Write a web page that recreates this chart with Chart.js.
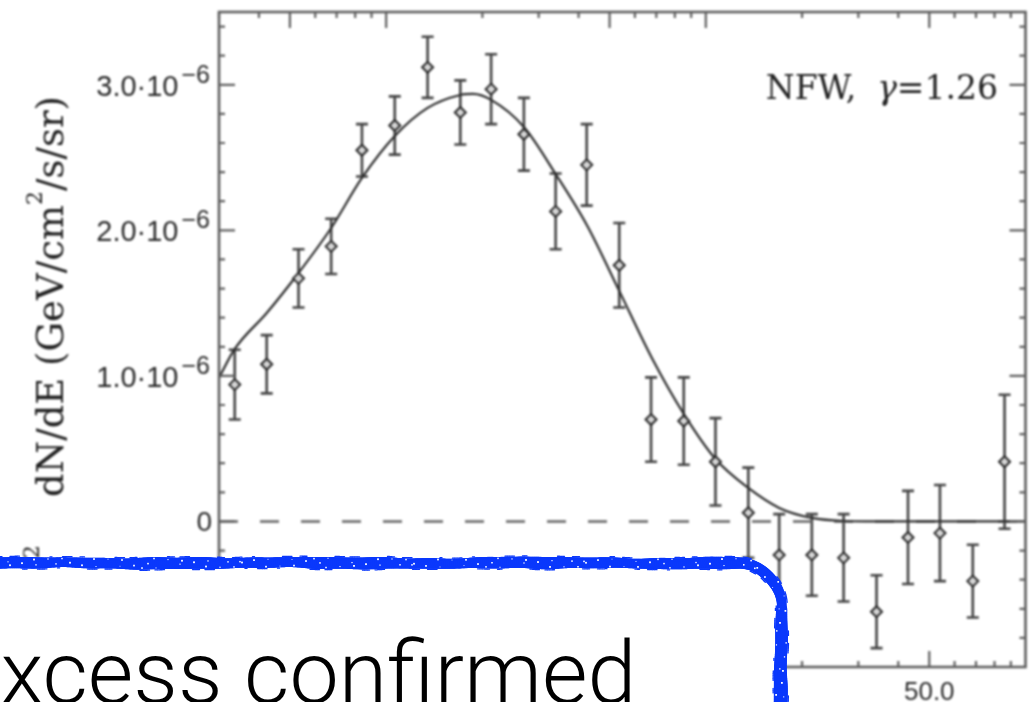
<!DOCTYPE html>
<html>
<head>
<meta charset="utf-8">
<script src="https://cdn.jsdelivr.net/npm/chart.js@4.4.1/dist/chart.umd.min.js"></script>
<style>
  html, body { margin: 0; padding: 0; background: #fff; overflow: hidden; }
  #wrap { position: relative; width: 1033px; height: 702px; }
  #plot { position: absolute; left: 0; top: 0; filter: blur(0.9px); }
  #note { position: absolute; left: 0; top: 0; pointer-events: none; }
</style>
</head>
<body>
<div id="wrap">
  <canvas id="plot" width="1033" height="702"></canvas>
  <canvas id="note" width="1033" height="702"></canvas>
</div>
<script>
// Energy bin centres (GeV)
const energy = [0.336, 0.423, 0.532, 0.673, 0.840, 1.064, 1.348, 1.706, 2.130, 2.697,
                3.390, 4.24, 5.36, 6.74, 8.53, 10.72, 13.58, 16.96, 21.46, 26.98,
                34.2, 42.9, 54.0, 68.4, 86.0];
// E^2 dN/dE in units of 1e-6 GeV/cm^2/s/sr
const flux = [0.94, 1.08, 1.67, 1.89, 2.55, 2.72, 3.12, 2.81, 2.97, 2.66,
              2.13, 2.45, 1.76, 0.70, 0.69, 0.41, 0.06, -0.23, -0.23, -0.25,
              -0.62, -0.11, -0.08, -0.41, 0.41];
// 1-sigma uncertainties, same units
const fluxErr = [0.24, 0.20, 0.20, 0.19, 0.18, 0.20, 0.21, 0.22, 0.24, 0.25,
                 0.26, 0.28, 0.29, 0.29, 0.30, 0.30, 0.31, 0.28, 0.28, 0.30,
                 0.25, 0.32, 0.33, 0.25, 0.46];
// Best-fit dark matter spectrum
const modelEnergy = [0.30, 0.336, 0.423, 0.532, 0.673, 0.840, 1.064, 1.348, 1.706, 1.87,
                     2.130, 2.697, 3.390, 4.26, 5.36, 6.78, 8.53, 10.72, 13.58, 16.96,
                     21.46, 26.98, 33.9, 50.0, 100.0];
const modelFlux = [0.986, 1.185, 1.432, 1.707, 2.016, 2.360, 2.648, 2.841, 2.930, 2.937,
                   2.896, 2.710, 2.387, 2.030, 1.584, 1.123, 0.739, 0.429, 0.230, 0.093,
                   0.024, 0.003, 0.0, 0.0, 0.0];

// Axis ticks
const yMajorTicks = [0, 1, 2, 3];
const yTickMantissa = ['0', '1.0·10', '2.0·10', '3.0·10'];
const yTickExponent = ['', '−6', '−6', '−6'];
const xMajorTicks = [0.5, 1, 5, 10, 50];
const xTickLabels = ['0.5', '1.0', '5.0', '10.0', '50.0'];
const xMinorTicks = [0.3, 0.4, 0.6, 0.7, 0.8, 0.9, 2, 3, 4, 6, 7, 8, 9,
                     20, 30, 40, 60, 70, 80, 90];

const errorBars = {
  id: 'errorBars',
  beforeDatasetsDraw(chart) {
    const { ctx, scales: { x, y } } = chart;
    ctx.save();
    ctx.strokeStyle = '#444';
    ctx.lineWidth = 2.6;
    energy.forEach((e, i) => {
      const px = x.getPixelForValue(e);
      const top = y.getPixelForValue(flux[i] + fluxErr[i]);
      const bot = y.getPixelForValue(flux[i] - fluxErr[i]);
      ctx.beginPath();
      ctx.moveTo(px, top); ctx.lineTo(px, bot);
      ctx.moveTo(px - 6, top); ctx.lineTo(px + 6, top);
      ctx.moveTo(px - 6, bot); ctx.lineTo(px + 6, bot);
      ctx.stroke();
    });
    ctx.restore();
  }
};

const frameAndText = {
  id: 'frameAndText',
  afterDraw(chart) {
    const { ctx, chartArea: a, scales: { x, y } } = chart;
    ctx.save();
    // frame
    ctx.strokeStyle = '#5e5e5e';
    ctx.lineWidth = 2.6;
    ctx.strokeRect(a.left, a.top, a.right - a.left, a.bottom - a.top);

    // inward ticks on all four sides
    ctx.lineWidth = 2.2;
    const MAJ = 16, MIN = 6;
    ctx.beginPath();
    for (let k = -5; k <= 17; k++) {
      const py = y.getPixelForValue(k * 0.2);
      const len = (k % 5 === 0) ? MAJ : MIN;
      ctx.moveTo(a.left, py); ctx.lineTo(a.left + len, py);
      ctx.moveTo(a.right, py); ctx.lineTo(a.right - len, py);
    }
    xMajorTicks.forEach(v => {
      const px = x.getPixelForValue(v);
      ctx.moveTo(px, a.bottom); ctx.lineTo(px, a.bottom - MAJ);
      ctx.moveTo(px, a.top); ctx.lineTo(px, a.top + MAJ);
    });
    xMinorTicks.forEach(v => {
      const px = x.getPixelForValue(v);
      ctx.moveTo(px, a.bottom); ctx.lineTo(px, a.bottom - MIN);
      ctx.moveTo(px, a.top); ctx.lineTo(px, a.top + MIN);
    });
    ctx.stroke();

    // y tick labels with exponent
    ctx.fillStyle = '#2a2a2a';
    ctx.textBaseline = 'alphabetic';
    yMajorTicks.forEach((v, i) => {
      const py = y.getPixelForValue(v);
      ctx.textAlign = 'right';
      if (yTickExponent[i]) {
        ctx.font = '25px "Liberation Sans", Arial, sans-serif';
        ctx.fillText(yTickExponent[i], 210, py - 2);
        const ew = ctx.measureText(yTickExponent[i]).width;
        ctx.font = '29px "Liberation Sans", Arial, sans-serif';
        ctx.fillText(yTickMantissa[i], 210 - ew - 3, py + 11);
      } else {
        ctx.font = '28px "Liberation Sans", Arial, sans-serif';
        ctx.fillText(yTickMantissa[i], 212, py + 10);
      }
    });

    // x tick labels
    ctx.font = '26px "Liberation Sans", Arial, sans-serif';
    ctx.textAlign = 'center';
    xMajorTicks.forEach((v, i) => {
      ctx.fillText(xTickLabels[i], x.getPixelForValue(v), 700);
    });

    // y axis title, rotated; [text, size, raise, extra space after]
    const parts = [
      ['E', 37, 0, 0], ['2', 22, 24, 48], ['dN/dE (GeV/cm', 37, 0, 0], ['2', 22, 21, 0], ['/s/sr)', 37, 0, 0]
    ];
    let total = 0;
    parts.forEach(p => {
      ctx.font = p[1] + 'px "DejaVu Serif", serif';
      total += ctx.measureText(p[0]).width + p[3];
    });
    ctx.translate(63, 96 + total);
    ctx.rotate(-Math.PI / 2);
    ctx.textAlign = 'left';
    ctx.fillStyle = '#222';
    let cx = 0;
    parts.forEach(p => {
      ctx.font = p[1] + 'px "DejaVu Serif", serif';
      ctx.fillText(p[0], cx, -p[2]);
      cx += ctx.measureText(p[0]).width + p[3];
    });
    ctx.setTransform(1, 0, 0, 1, 0, 0);

    // model label
    const lab = [
      ['NFW,  ', '33px "DejaVu Serif", serif'],
      ['γ', 'italic 33px "DejaVu Serif", serif'],
      ['=1.26', '33px "DejaVu Serif", serif']
    ];
    let lw = 0;
    lab.forEach(p => { ctx.font = p[1]; lw += ctx.measureText(p[0]).width; });
    let lx = 998 - lw;
    ctx.textAlign = 'left';
    lab.forEach(p => {
      ctx.font = p[1];
      ctx.fillText(p[0], lx, 99);
      lx += ctx.measureText(p[0]).width;
    });
    ctx.restore();
  }
};

new Chart(document.getElementById('plot'), {
  type: 'scatter',
  data: {
    datasets: [
      {
        label: 'data',
        data: energy.map((e, i) => ({ x: e, y: flux[i] })),
        pointStyle: 'rectRot',
        pointRadius: 5.5,
        pointBorderWidth: 2,
        pointBorderColor: '#2a2a2a',
        pointBackgroundColor: '#d6d6d6',
        showLine: false,
        order: 1
      },
      {
        label: 'model',
        data: modelEnergy.map((e, i) => ({ x: e, y: modelFlux[i] })),
        showLine: true,
        borderColor: '#2c2c2c',
        borderWidth: 2.2,
        pointRadius: 0,
        cubicInterpolationMode: 'monotone',
        order: 2
      },
      {
        label: 'zero',
        data: [{ x: 0.3, y: 0 }, { x: 100, y: 0 }],
        showLine: true,
        borderColor: '#666',
        borderWidth: 2.4,
        borderDash: [19, 22],
        pointRadius: 0,
        order: 3
      }
    ]
  },
  options: {
    responsive: false,
    devicePixelRatio: 1,
    animation: false,
    layout: { padding: { top: 12, right: 2, bottom: 0, left: 0 } },
    plugins: { legend: { display: false }, tooltip: { enabled: false } },
    scales: {
      x: {
        type: 'logarithmic', min: 0.3, max: 100,
        ticks: { display: false }, grid: { display: false }, border: { display: false },
        afterFit(s) { s.height = 35; }
      },
      y: {
        type: 'linear', min: -1, max: 3.5,
        ticks: { display: false }, grid: { display: false }, border: { display: false },
        afterFit(s) { s.width = 219; }
      }
    }
  },
  plugins: [errorBars, frameAndText]
});

// Marker-drawn callout box with the headline
(function () {
  const c = document.getElementById('note');
  const ctx = c.getContext('2d');
  const TOP = 563, RIGHT = 781, R = 44, LEFT = -40, BOTTOM = 740;
  const L1 = (RIGHT - R) - LEFT, L2 = Math.PI * R / 2, L3 = BOTTOM - (TOP + R);
  const LEN = L1 + L2 + L3;

  // point on the box outline at arc length s, with outward normal
  function at(s) {
    if (s <= L1) return { x: LEFT + s, y: TOP, nx: 0, ny: -1, side: 0 };
    if (s <= L1 + L2) {
      const t = (s - L1) / R - Math.PI / 2;
      return { x: RIGHT - R + R * Math.cos(t), y: TOP + R + R * Math.sin(t),
               nx: Math.cos(t), ny: Math.sin(t), side: 1 };
    }
    return { x: RIGHT, y: TOP + R + (s - L1 - L2), nx: 1, ny: 0, side: 2 };
  }
  // slight wobble of the pen across the outline
  const wob = s => 0.45 * Math.sin(s / 41) + 0.3 * Math.sin(s / 17 + 1.3) + 0.25 * Math.sin(s / 7.3);
  const thick = (s, side) => (side === 2 ? 12.5 : 11) + 0.9 * Math.sin(s / 29 + 0.7) + 0.5 * Math.sin(s / 9.1);

  // white panel
  ctx.beginPath();
  for (let s = 0; s <= LEN; s += 2) {
    const p = at(s);
    if (s === 0) ctx.moveTo(p.x, p.y); else ctx.lineTo(p.x, p.y);
  }
  ctx.lineTo(LEFT, BOTTOM);
  ctx.closePath();
  ctx.fillStyle = '#fff';
  ctx.fill();

  // pen stroke with varying width
  ctx.strokeStyle = 'rgb(10, 56, 252)';
  ctx.lineCap = 'round';
  for (let s = 0; s < LEN; s += 2) {
    const p = at(s), q = at(s + 2);
    const w1 = wob(s), w2 = wob(s + 2);
    ctx.lineWidth = thick(s, p.side);
    ctx.beginPath();
    ctx.moveTo(p.x + p.nx * w1, p.y + p.ny * w1);
    ctx.lineTo(q.x + q.nx * w2, q.y + q.ny * w2);
    ctx.stroke();
  }
  // ragged fibres along the edges
  ctx.lineWidth = 1.3;
  for (let s = 0; s < LEN; s += 2.5) {
    const p = at(s);
    const h = Math.sin(s * 0.37) + Math.sin(s * 0.113 + 2);
    if (Math.abs(h) < 0.5) continue;
    const side = h > 0 ? 1 : -1;
    const o = wob(s) + side * (thick(s, p.side) / 2 + 0.7);
    const q = at(s + 2);
    ctx.beginPath();
    ctx.moveTo(p.x + p.nx * o, p.y + p.ny * o);
    ctx.lineTo(q.x + q.nx * o, q.y + q.ny * o);
    ctx.stroke();
  }
  // paper showing through the ink
  ctx.fillStyle = '#fff';
  for (let s = 0; s < LEN; s += 2) {
    const p = at(s);
    const h = Math.sin(s * 0.731) * Math.sin(s * 0.219 + 0.5);
    if (h < 0.35) continue;
    const band = thick(s, p.side) / 2 - 1.2;
    const o = wob(s) + band * Math.sin(s * 1.37);
    const sz = 0.8 + 1.0 * Math.abs(Math.sin(s * 0.53));
    ctx.fillRect(p.x + p.nx * o - sz / 2, p.y + p.ny * o - sz / 2, sz, sz);
  }

  // headline text
  ctx.fillStyle = '#000';
  ctx.font = '300 88px Roboto, "Liberation Sans", sans-serif';
  ctx.textBaseline = 'alphabetic';
  const lead = ctx.measureText('Excess ').width;
  ctx.fillText('Excess confirmed', 244 - lead, 703);
})();
</script>
</body>
</html>
